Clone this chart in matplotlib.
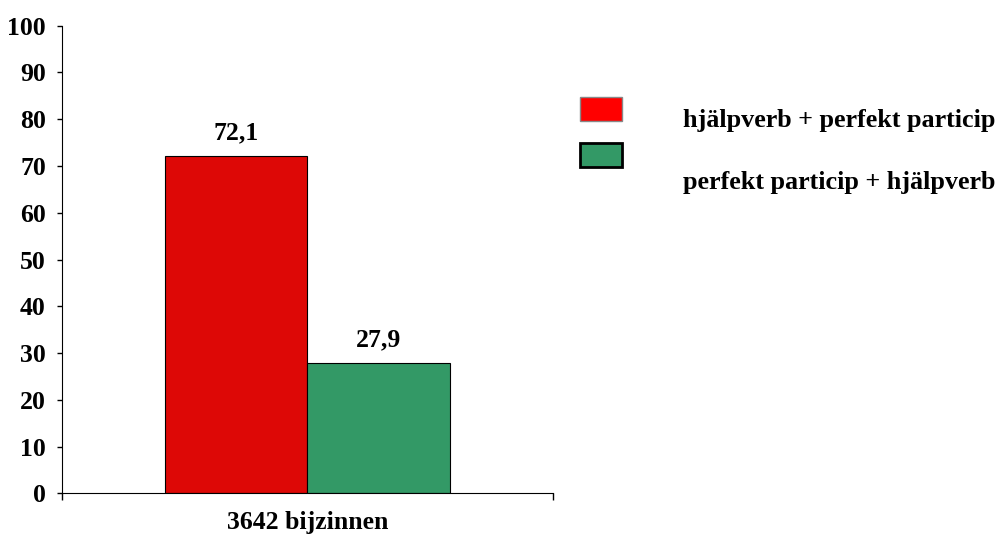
import matplotlib
matplotlib.use("Agg")
from matplotlib import pyplot as plt
from matplotlib.patches import Rectangle

series = ['hjälpverb + perfekt particip', 'perfekt particip + hjälpverb']
values = [72.1, 27.9]
value_labels = ['72,1', '27,9']
bar_colors = ['#DD0806', '#339966']
legend_colors = ['#FF0000', '#339966']
category = '3642 bijzinnen'
yticks = list(range(0, 101, 10))

plt.rcParams['font.family'] = ['Liberation Serif', 'DejaVu Serif']
plt.rcParams['font.weight'] = 'bold'

fig = plt.figure(figsize=(9.98, 5.35), dpi=100)
ax = fig.add_axes([0.0621, 0.0776, 0.4920, 0.8744])

w = 0.29
offsets = [-w / 2, w / 2]
for v, off, c, lab in zip(values, offsets, bar_colors, value_labels):
    ax.bar(off, v, width=w, color=c, edgecolor='black', linewidth=0.8)
    ax.annotate(lab, (off, v), xytext=(0, 12.2), textcoords='offset points',
                ha='center', va='baseline', fontsize=18.5, fontweight='bold')

ax.set_xlim(-0.5, 0.5)
ax.set_ylim(0, 100)
ax.set_yticks(yticks)
ax.set_xticks([-0.5, 0.5])
ax.set_xticklabels(['', ''])
ax.tick_params(axis='y', direction='out', length=3.6, width=1, labelsize=18.5, pad=8)
ax.tick_params(axis='x', direction='out', length=5, width=1)
for t in ax.get_yticklabels():
    t.set_fontweight('bold')
ax.spines['top'].set_visible(False)
ax.spines['right'].set_visible(False)
ax.set_xlabel(category, fontsize=18.5, fontweight='bold', labelpad=4)

# legend drawn by hand (labels not aligned with the boxes in the original)
box_y = [0.7738, 0.6879]
text_y = [0.7757, 0.6598]
for c, by, ty, lab, ec, lw in zip(legend_colors, box_y, text_y, series,
                                 ['#888888', 'black'], [1.0, 2.0]):
    fig.patches.append(Rectangle((0.5812, by), 0.0421, 0.0449, transform=fig.transFigure,
                                 facecolor=c, edgecolor=ec, linewidth=lw))
    fig.text(0.6844, ty, lab, fontsize=18.8, fontweight='bold', va='center', ha='left')

fig.savefig('out.png', dpi=100)
